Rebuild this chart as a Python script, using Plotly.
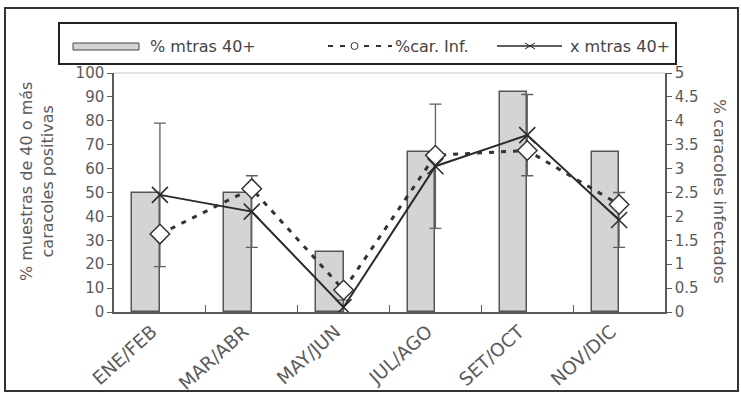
import plotly.graph_objects as go

# ---------------- data ----------------
categories = ["ENE/FEB", "MAR/ABR", "MAY/JUN", "JUL/AGO", "SET/OCT", "NOV/DIC"]
pct_muestras_40 = [50, 50, 25, 67, 92, 67]          # bars, left axis
media_mtras_40 = [49, 42, 2, 61, 74, 38.5]          # solid line with x markers, left axis
err_mtras_40 = [30, 15, 3, 26, 17, 11.5]            # error bars of the solid line
pct_car_inf = [1.63, 2.58, 0.46, 3.28, 3.38, 2.25]  # dashed line with diamonds, right axis
right_tickvals = [0, 0.5, 1, 1.5, 2, 2.5, 3, 3.5, 4, 4.5, 5]
right_ticktext = ["0", "0.5", "1", "1.5", "2", "2.5", "3", "3.5", "4", "4.5", "5"]
legend_labels = ["% mtras 40+", "%car. Inf.", "x mtras 40+"]

# ---------------- geometry helpers ----------------
W, H = 741, 394
PL, PR, PT, PB = 114, 665, 73, 312   # plot area in px


def px(x):
    return (x - PL) / (PR - PL)


def py(y):
    return (PB - y) / (PB - PT)


FONT = "DejaVu Sans"
GREY = "#5a5a5a"
DARK = "#2a2a2a"

fig = go.Figure()

fig.add_trace(go.Bar(
    x=categories, y=pct_muestras_40, offset=-0.3, width=0.3,
    marker=dict(color="#d4d4d4", line=dict(color="#555555", width=1.5)),
    showlegend=False, name=legend_labels[0],
))

fig.add_trace(go.Scatter(
    x=categories, y=pct_car_inf, yaxis="y2", mode="lines+markers",
    line=dict(color="#333333", width=3, dash="5px,7px"),
    marker=dict(symbol="diamond", size=15, color="white",
                line=dict(color="#333333", width=1.5)),
    showlegend=False, name=legend_labels[1],
))

fig.add_trace(go.Scatter(
    x=categories, y=media_mtras_40, mode="lines+markers",
    line=dict(color=DARK, width=2),
    marker=dict(symbol="x-thin", size=16, color=DARK, line=dict(color=DARK, width=1.5)),
    error_y=dict(type="data", array=err_mtras_40, color="#606060", thickness=1.3, width=6),
    showlegend=False, name=legend_labels[2],
))

shapes = []
# outer frame
shapes.append(dict(type="rect", xref="paper", yref="paper",
                   x0=px(5), x1=px(738), y0=py(391), y1=py(8),
                   line=dict(color="#333333", width=2), fillcolor="rgba(0,0,0,0)", layer="below"))
# light top border of plot area
shapes.append(dict(type="line", xref="paper", yref="paper", x0=0, x1=1, y0=1, y1=1,
                   line=dict(color="#c8c8c8", width=1)))
# legend box
shapes.append(dict(type="rect", xref="paper", yref="paper",
                   x0=px(59), x1=px(676), y0=py(64), y1=py(23),
                   line=dict(color="#222222", width=2), fillcolor="white"))
# legend: bar symbol
shapes.append(dict(type="rect", xref="paper", yref="paper",
                   x0=px(73), x1=px(139), y0=py(50), y1=py(43),
                   line=dict(color="#444444", width=1), fillcolor="#d4d4d4"))
# legend: dashed symbol
shapes.append(dict(type="line", xref="paper", yref="paper",
                   x0=px(328), x1=px(392), y0=py(46), y1=py(46),
                   line=dict(color="#333333", width=2, dash="5px,7px")))
shapes.append(dict(type="circle", xref="paper", yref="paper",
                   x0=px(351), x1=px(358), y0=py(49.5), y1=py(42.5),
                   line=dict(color="#333333", width=1), fillcolor="white"))
# legend: solid symbol with x
shapes.append(dict(type="line", xref="paper", yref="paper",
                   x0=px(497), x1=px(562), y0=py(46), y1=py(46),
                   line=dict(color=DARK, width=1.5)))
shapes.append(dict(type="line", xref="paper", yref="paper",
                   x0=px(525), x1=px(535), y0=py(43), y1=py(49),
                   line=dict(color=DARK, width=1)))
shapes.append(dict(type="line", xref="paper", yref="paper",
                   x0=px(525), x1=px(535), y0=py(49), y1=py(43),
                   line=dict(color=DARK, width=1)))

annotations = []
leg_font = dict(family=FONT, size=16, color="#444444")
for xpos, label in zip([148, 393, 568], legend_labels):
    annotations.append(dict(xref="paper", yref="paper", x=px(xpos), y=py(46),
                            xanchor="left", yanchor="middle", showarrow=False,
                            text=label, font=leg_font))
annotations.append(dict(xref="paper", yref="paper", x=px(37), y=py(182),
                        xanchor="center", yanchor="middle", showarrow=False, textangle=-90,
                        text="% muestras de 40 o más<br>caracoles positivas",
                        font=dict(family=FONT, size=16, color=GREY)))
annotations.append(dict(xref="paper", yref="paper", x=px(720), y=py(191),
                        xanchor="center", yanchor="middle", showarrow=False, textangle=90,
                        text="% caracoles infectados",
                        font=dict(family=FONT, size=16, color=GREY)))

fig.update_layout(
    width=W, height=H,
    margin=dict(l=PL, r=W - PR, t=PT, b=H - PB, autoexpand=False),
    paper_bgcolor="white", plot_bgcolor="white",
    font=dict(family=FONT, size=15, color=GREY),
    showlegend=False,
    shapes=shapes, annotations=annotations,
    xaxis=dict(type="category", range=[-0.5, 5.5], showline=True, linecolor=GREY, linewidth=1.5,
               ticks="inside", ticklen=7, tickcolor=GREY, tickson="boundaries",
               tickangle=-42, tickfont=dict(family=FONT, size=18.5, color=GREY),
               ticklabelshift=-8,
               showgrid=False, zeroline=False, automargin=False),
    yaxis=dict(range=[0, 100], dtick=10, showline=True, linecolor=GREY, linewidth=1.5,
               ticks="outside", ticklen=5, tickcolor=GREY, showgrid=False, zeroline=False,
               tickfont=dict(family=FONT, size=15, color=GREY), automargin=False),
    yaxis2=dict(range=[0, 5], overlaying="y", side="right", tickvals=right_tickvals,
                ticktext=right_ticktext, showline=True, linecolor=GREY, linewidth=1.5,
                ticks="outside", ticklen=5, tickcolor=GREY, showgrid=False, zeroline=False,
                tickfont=dict(family=FONT, size=15, color=GREY), automargin=False),
    bargap=0,
)

fig.write_html("out.html", config={"displayModeBar": False},
               post_script="document.body.style.margin='0';document.body.style.overflow='hidden';")
